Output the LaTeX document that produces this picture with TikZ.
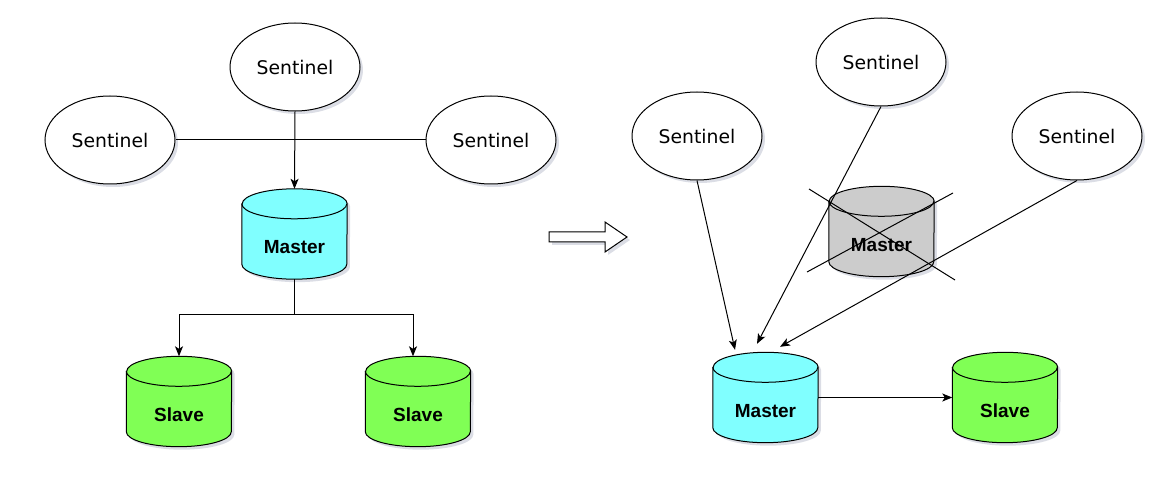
\documentclass[tikz,border=0pt]{standalone}
\usepackage{fontspec}
\newfontfamily\sentfont{DejaVu Sans}
\newfontfamily\dbfont{Liberation Sans}
\usetikzlibrary{shapes.geometric,shadows,backgrounds,arrows.meta,calc}
\definecolor{mcyan}{HTML}{80FFFF}
\definecolor{mgreen}{HTML}{80FF55}
\definecolor{mgray}{HTML}{CCCCCC}
\definecolor{shcol}{HTML}{8890A8}
\tikzset{
 shd/.style={drop shadow={shadow xshift=3pt,shadow yshift=-3pt,opacity=0.3,fill=shcol}},
 sent/.style={ellipse, draw, line width=1pt, fill=white, shd, minimum width=130pt, minimum height=88pt, inner sep=0pt, font=\sentfont\fontsize{18.8}{21}\selectfont},
 db/.style={rectangle, minimum width=105pt, minimum height=90pt, inner sep=0pt, font=\dbfont\bfseries\fontsize{19}{21}\selectfont, text height=40pt, text depth=0pt},
 conn/.style={line width=1pt},
 arr/.style={conn, -{Stealth[length=10pt,width=8pt,inset=2.5pt]}},
}
\newcommand\cylbody[2]{%
 \path[draw, line width=1pt, fill=#2, shd] ($(#1.north west)+(0,-15)$) -- ($(#1.south west)+(0,15)$) arc[start angle=180,end angle=360,x radius=52.5,y radius=15] -- ($(#1.north east)+(0,-15)$) arc[start angle=0,end angle=180,x radius=52.5,y radius=15] -- cycle;
 \draw[line width=1pt] ($(#1.north west)+(0,-15)$) arc[start angle=180,end angle=360,x radius=52.5,y radius=15];
}
\begin{document}
\begin{tikzpicture}[x=1pt,y=1pt]
\useasboundingbox (0,0) rectangle (1163,485);
% left side
\node[sent] (sT) at (295,418) {Sentinel};
\node[sent] (sL) at (110,345) {Sentinel};
\node[sent] (sR) at (491,345) {Sentinel};
\node[db] (m1) at (294.5,251) {Master};
\node[db] (s1) at (179,83.5) {Slave};
\node[db] (s2) at (418,83.5) {Slave};
% right side
\node[sent] (sA) at (697,349) {Sentinel};
\node[sent] (sB) at (881,423) {Sentinel};
\node[sent] (sC) at (1077,349) {Sentinel};
\node[db] (mx) at (881.5,253.5) {Master};
\node[db] (m2) at (765.5,87.5) {Master};
\node[db] (s3) at (1005,87.5) {Slave};
\begin{scope}[on background layer]
\cylbody{m1}{mcyan}
\cylbody{s1}{mgreen}
\cylbody{s2}{mgreen}
\cylbody{mx}{mgray}
\cylbody{m2}{mcyan}
\cylbody{s3}{mgreen}
\end{scope}
% left connectors
\draw[conn] (sL.east) -- (sR.west);
\draw[arr] (sT.south) -- (m1.north);
\coordinate (j1) at ($(m1.south)+(0,-35)$);
\draw[arr] (m1.south) -- (j1) -| (s1.north);
\draw[arr] (j1) -| ($(s2.north)+(-5,0)$);
% block arrow
\draw[line width=1pt, fill=white, shd] (549,253) -- (605,253) -- (605,263) -- (627,248) -- (605,233) -- (605,243) -- (549,243) -- cycle;
% right connectors
\draw[arr] (sA.south) -- ($(m2.north)+(-30.5,2.5)$);
\draw[arr] (sB.south) -- ($(m2.north)+(-8.5,8.5)$);
\draw[arr] (sC.south) -- ($(m2.north)+(14.5,5.5)$);
\draw[arr] (m2.east) -- (s3.west);
% cross over failed master
\draw[conn] ($(mx.center)+(-72.5,42.5)$) -- ($(mx.center)+(73.5,-48.5)$);
\draw[conn] ($(mx.center)+(-74.5,-40.5)$) -- ($(mx.center)+(71.5,38.5)$);
\end{tikzpicture}
\end{document}
